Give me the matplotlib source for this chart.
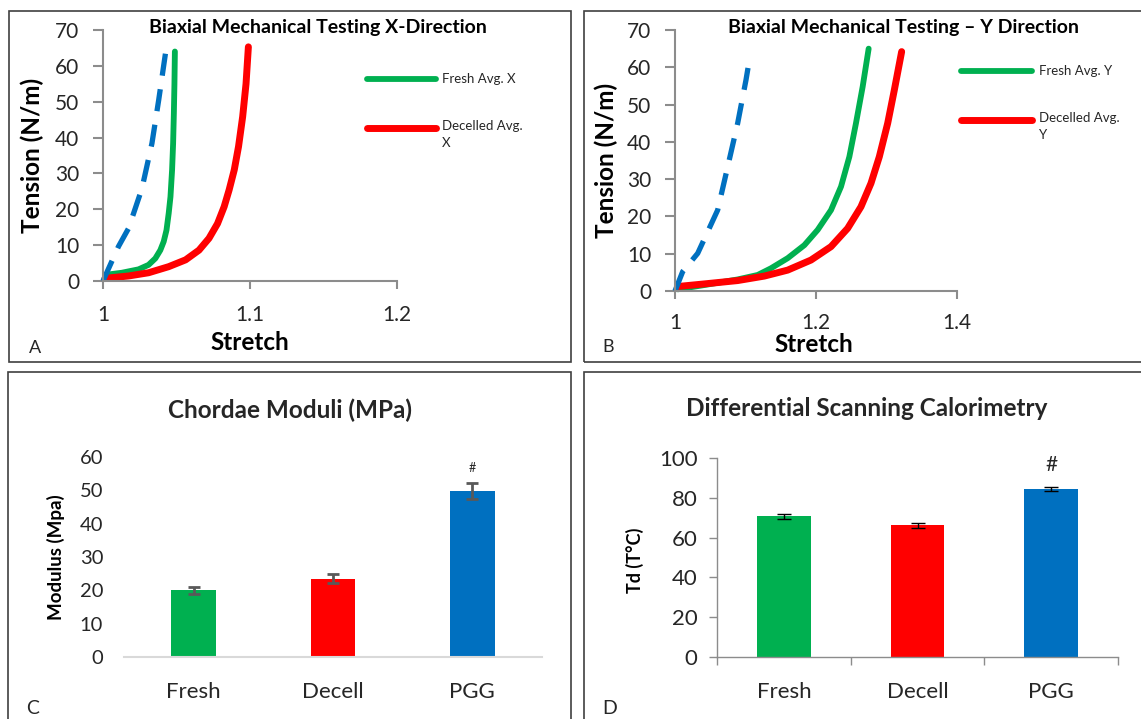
import matplotlib
matplotlib.use('Agg')
import matplotlib.pyplot as plt
from matplotlib.lines import Line2D
from matplotlib.patches import Rectangle

plt.rcParams['font.family'] = ['Lato', 'DejaVu Sans']

# ---------------- data ----------------
# Panel A (X direction)
stretch_fresh_x = [1.0014, 1.0128, 1.0242, 1.0310, 1.0356, 1.0390, 1.0413, 1.0432,
                   1.0447, 1.0459, 1.0470, 1.0477, 1.0482, 1.0486, 1.0489]
tension_fresh_x = [1.7, 2.3, 3.25, 4.5, 6.3, 8.6, 11.0, 14.2,
                   18.9, 23.5, 31.0, 38.4, 46.7, 55.0, 64.0]
stretch_decell_x = [1.0014, 1.0174, 1.0310, 1.0447, 1.0562, 1.0653, 1.0721, 1.0779,
                    1.0824, 1.0858, 1.0893, 1.0922, 1.0950, 1.0973, 1.0989]
tension_decell_x = [0.74, 1.4, 2.3, 4.0, 5.9, 8.6, 11.9, 16.0,
                    20.7, 25.4, 31.0, 37.5, 45.8, 55.0, 65.3]
stretch_pgg_x = [1.000, 1.0105, 1.0174, 1.0265, 1.0333, 1.0379, 1.0425]
tension_pgg_x = [0.0, 9.6, 14.7, 25.8, 38.4, 50.5, 63.5]

# Panel B (Y direction)
stretch_fresh_y = [1.0038, 1.0416, 1.0889, 1.1173, 1.1362, 1.1598, 1.1835, 1.2024,
                   1.2213, 1.2355, 1.2473, 1.2567, 1.2662, 1.2747]
tension_fresh_y = [0.45, 1.6, 3.1, 4.3, 6.1, 8.8, 12.3, 16.4,
                   21.7, 28.0, 36.0, 45.0, 54.8, 65.0]
stretch_decell_y = [1.0038, 1.0416, 1.0889, 1.1267, 1.1598, 1.1929, 1.2213, 1.2449,
                    1.2638, 1.2780, 1.2898, 1.3017, 1.3111, 1.3215]
tension_decell_y = [1.2, 1.9, 2.8, 4.0, 5.6, 8.3, 11.9, 16.8,
                    22.6, 28.9, 36.0, 45.0, 53.9, 64.2]
stretch_pgg_y = [1.000, 1.0109, 1.0322, 1.0605, 1.0747, 1.0889, 1.1007, 1.1054]
tension_pgg_y = [0.0, 5.2, 10.1, 21.7, 33.3, 45.0, 56.6, 61.9]

# Panels C and D
categories = ['Fresh', 'Decell', 'PGG']
moduli = [20.0, 23.5, 49.7]
moduli_err = [1.1, 1.35, 2.4]
td = [70.8, 66.3, 84.4]
td_err = [1.25, 1.25, 0.9]

x_ticks_a = [1.0, 1.1, 1.2]
x_tick_labels_a = ['1', '1.1', '1.2']
x_ticks_b = [1.0, 1.2, 1.4]
x_tick_labels_b = ['1', '1.2', '1.4']
y_ticks_ab = [0, 10, 20, 30, 40, 50, 60, 70]
y_ticks_c = [0, 10, 20, 30, 40, 50, 60]
y_ticks_d = [0, 20, 40, 60, 80, 100]

# ---------------- styling ----------------
GREEN = '#00b050'
RED = '#ff0000'
BLUE = '#0070c0'
AXIS = '#8c8c8c'
TXT = '#262626'
FRAME = '#404040'

W, H = 1141, 719
fig = plt.figure(figsize=(W / 100, H / 100), dpi=100)


def box(l, t, r, b):
    return [l / W, 1 - b / H, (r - l) / W, (b - t) / H]


def fx(x):
    return x / W


def fy(y):
    return 1 - y / H


# panel frames
for (l, t, r, b) in [(9, 11, 571, 362), (584, 11, 1145, 362),
                     (8, 372, 571, 725), (584, 372, 1145, 725)]:
    fig.add_artist(Rectangle((fx(l), fy(b)), fx(r - l), (b - t) / H,
                             transform=fig.transFigure, fill=False,
                             edgecolor=FRAME, linewidth=1.2, clip_on=False))


def style_curve_axes(ax, xlim, xticks, xlabels, xpad):
    ax.set_xlim(*xlim)
    ax.set_ylim(0, 70)
    for s in ['top', 'right']:
        ax.spines[s].set_visible(False)
    for s in ['left', 'bottom']:
        ax.spines[s].set_color(AXIS)
        ax.spines[s].set_linewidth(1.5)
    ax.set_xticks(xticks)
    ax.set_xticklabels(xlabels)
    ax.set_yticks(y_ticks_ab)
    ax.tick_params(axis='y', direction='out', length=7, width=1.5, color=AXIS,
                   labelsize=15, labelcolor=TXT, pad=10)
    ax.tick_params(axis='x', direction='out', length=6, width=1.5, color=AXIS,
                   labelsize=15, labelcolor=TXT, pad=xpad)
    ax.patch.set_alpha(0)


def curves(ax, sf, tf, sd, tdv, sp, tp):
    ax.plot(sf, tf, color=GREEN, lw=4.2, clip_on=False,
            solid_capstyle='round', solid_joinstyle='round')
    ax.plot(sd, tdv, color=RED, lw=5, clip_on=False,
            solid_capstyle='round', solid_joinstyle='round')
    ax.plot(sp, tp, color=BLUE, lw=3.8, clip_on=False,
            dashes=[4.2, 2.6], dash_joinstyle='round')


# ---------------- Panel A ----------------
axA = fig.add_axes(box(103, 30, 397, 281))
curves(axA, stretch_fresh_x, tension_fresh_x, stretch_decell_x, tension_decell_x,
       stretch_pgg_x, tension_pgg_x)
style_curve_axes(axA, (1.0, 1.2), x_ticks_a, x_tick_labels_a, 11)
fig.text(fx(318), fy(28), 'Biaxial Mechanical Testing X-Direction', ha='center', va='center',
         fontsize=14, fontweight='bold', color='black')
fig.text(fx(32), fy(155), 'Tension (N/m)', rotation=90, ha='center', va='center',
         fontsize=17.5, fontweight='bold', color='black')
fig.text(fx(250), fy(343), 'Stretch', ha='center', va='center',
         fontsize=17.5, fontweight='bold', color='black')
fig.text(fx(35), fy(348), 'A', ha='center', va='center', fontsize=13, color=TXT)
# legend A
fig.add_artist(Line2D([fx(367), fx(436)], [fy(79), fy(79)], transform=fig.transFigure,
                      color=GREEN, lw=4.2, solid_capstyle='round'))
fig.add_artist(Line2D([fx(367), fx(436)], [fy(128), fy(128)], transform=fig.transFigure,
                      color=RED, lw=5, solid_capstyle='round'))
fig.text(fx(442), fy(79), 'Fresh Avg. X', ha='left', va='center', fontsize=9.5, color=TXT)
fig.text(fx(442), fy(120), 'Decelled Avg.\nX', ha='left', va='top', fontsize=9.5,
         color=TXT, linespacing=1.5)

# ---------------- Panel B ----------------
axB = fig.add_axes(box(675, 30, 957, 291))
curves(axB, stretch_fresh_y, tension_fresh_y, stretch_decell_y, tension_decell_y,
       stretch_pgg_y, tension_pgg_y)
style_curve_axes(axB, (1.0, 1.4), x_ticks_b, x_tick_labels_b, 10)
fig.text(fx(903), fy(28), 'Biaxial Mechanical Testing \u2013 Y Direction', ha='center',
         va='center', fontsize=14, fontweight='bold', color='black')
fig.text(fx(606), fy(160), 'Tension (N/m)', rotation=90, ha='center', va='center',
         fontsize=17.5, fontweight='bold', color='black')
fig.text(fx(814), fy(344), 'Stretch', ha='center', va='center',
         fontsize=17.5, fontweight='bold', color='black')
fig.text(fx(608), fy(347), 'B', ha='center', va='center', fontsize=13, color=TXT)
# legend B
fig.add_artist(Line2D([fx(961), fx(1032)], [fy(71), fy(71)], transform=fig.transFigure,
                      color=GREEN, lw=4.2, solid_capstyle='round'))
fig.add_artist(Line2D([fx(961), fx(1032)], [fy(120), fy(120)], transform=fig.transFigure,
                      color=RED, lw=5, solid_capstyle='round'))
fig.text(fx(1039), fy(71), 'Fresh Avg. Y', ha='left', va='center', fontsize=9.5, color=TXT)
fig.text(fx(1039), fy(112), 'Decelled Avg.\nY', ha='left', va='top', fontsize=9.5,
         color=TXT, linespacing=1.5)

# ---------------- Panel C ----------------
axC = fig.add_axes(box(124, 457, 542, 657))
xs = list(range(len(categories)))
axC.bar(xs, moduli, width=0.32, color=[GREEN, RED, BLUE], zorder=2)
axC.errorbar(xs, moduli, yerr=moduli_err, fmt='none', ecolor='#595959',
             elinewidth=2, capsize=4, capthick=2, zorder=3)
axC.text(xs[2], moduli[2] + moduli_err[2] + 4.5, '#', ha='center', va='center',
         fontsize=9, color=TXT)
axC.set_xlim(-0.5, 2.5)
axC.set_ylim(0, 60)
axC.set_yticks(y_ticks_c)
axC.set_xticks(xs)
axC.set_xticklabels(categories)
for s in ['top', 'right', 'left']:
    axC.spines[s].set_visible(False)
axC.spines['bottom'].set_color('#d9d9d9')
axC.spines['bottom'].set_linewidth(1.5)
axC.tick_params(axis='y', length=0, labelsize=14.5, labelcolor=TXT, pad=15)
axC.tick_params(axis='x', length=0, labelsize=16, labelcolor=TXT, pad=18)
axC.patch.set_alpha(0)
fig.text(fx(290), fy(410), 'Chordae Moduli (MPa)', ha='center', va='center',
         fontsize=17.5, fontweight='bold', color=TXT)
fig.text(fx(56), fy(557), 'Modulus (Mpa)', rotation=90, ha='center', va='center',
         fontsize=13.5, fontweight='bold', color='black')
fig.text(fx(33), fy(708), 'C', ha='center', va='center', fontsize=14, color=TXT)

# ---------------- Panel D ----------------
axD = fig.add_axes(box(717, 458, 1118, 657))
axD.bar(xs, td, width=0.40, color=[GREEN, RED, BLUE], zorder=2)
axD.errorbar(xs, td, yerr=td_err, fmt='none', ecolor='black',
             elinewidth=1, capsize=5, capthick=1, zorder=3)
axD.text(xs[2], td[2] + td_err[2] + 11, '#', ha='center', va='center',
         fontsize=15, color=TXT)
axD.set_xlim(-0.5, 2.5)
axD.set_ylim(0, 100)
axD.set_yticks(y_ticks_d)
axD.set_xticks(xs)
axD.set_xticklabels(categories)
axD.set_xticks([-0.5, 0.5, 1.5, 2.5], minor=True)
for s in ['top', 'right']:
    axD.spines[s].set_visible(False)
for s in ['left', 'bottom']:
    axD.spines[s].set_color(AXIS)
    axD.spines[s].set_linewidth(1.0)
axD.tick_params(axis='y', direction='out', length=6, width=1, color=AXIS,
                labelsize=16, labelcolor=TXT, pad=8)
axD.tick_params(axis='x', which='major', length=0, labelsize=16, labelcolor=TXT, pad=18)
axD.tick_params(axis='x', which='minor', direction='out', length=6, width=1, color=AXIS)
axD.patch.set_alpha(0)
fig.text(fx(867), fy(409), 'Differential Scanning Calorimetry', ha='center', va='center',
         fontsize=17.5, fontweight='bold', color=TXT)
fig.text(fx(635), fy(560), 'Td (T\u00b0C)', rotation=90, ha='center', va='center',
         fontsize=13, fontweight='bold', color='black')
fig.text(fx(610), fy(708), 'D', ha='center', va='center', fontsize=14, color=TXT)

fig.savefig('out.png', dpi=100)
